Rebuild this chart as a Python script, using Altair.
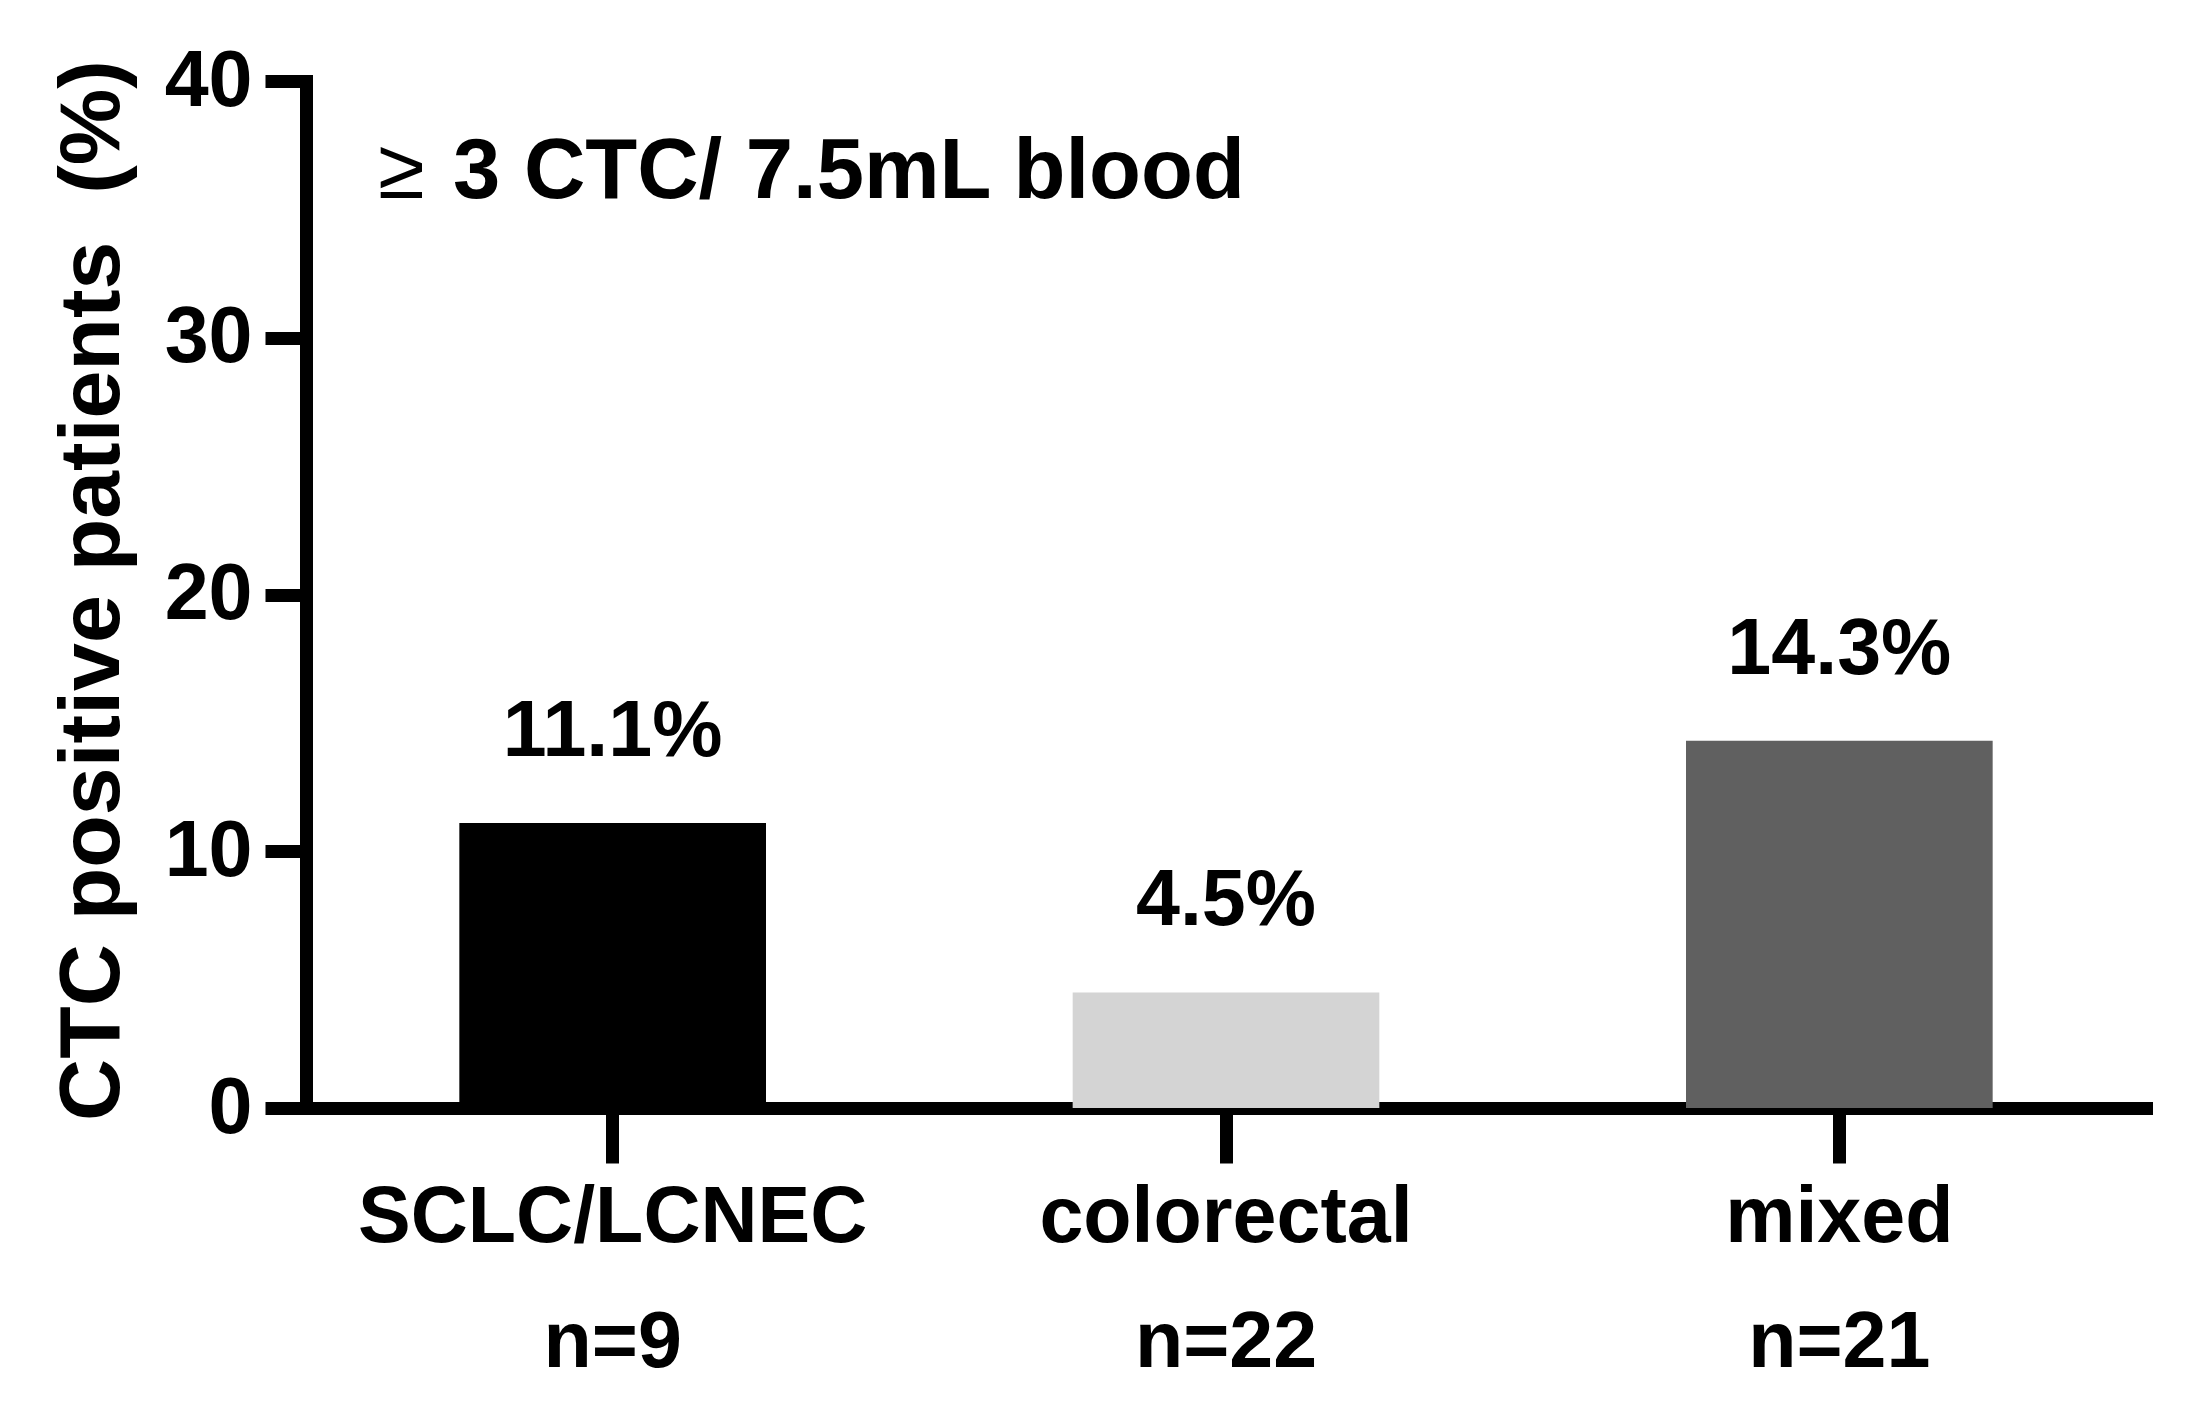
import altair as alt
import pandas as pd

# ---- data ----
categories = ["SCLC/LCNEC", "colorectal", "mixed"]
n_labels = ["n=9", "n=22", "n=21"]
values = [11.1, 4.5, 14.3]
bar_colors = ["#000000", "#d4d4d4", "#606060"]
y_ticks = [0, 10, 20, 30, 40]
y_title = "CTC positive patients\u00a0 (%)"
note_symbol = ["\u2265"]
note_text = ["3 CTC/ 7.5mL blood"]

FONT = "Liberation Sans, Arial, Helvetica, sans-serif"

df = pd.DataFrame({"category": categories, "n": n_labels, "value": values})
df["key"] = df["category"] + "|" + df["n"]
keys = list(df["key"])

x_enc = alt.X(
    "key:N",
    sort=keys,
    scale=alt.Scale(paddingInner=0.5, paddingOuter=0.25),
    axis=alt.Axis(
        title=None,
        labelExpr="split(datum.label, '|')",
        labelAngle=0,
        labelFont=FONT,
        labelFontSize=79,
        labelFontWeight="bold",
        labelColor="black",
        labelPadding=16,
        labelBaseline="top",
        labelLineHeight=125,
        labelOverlap=False,
        labelLimit=2000,
        tickSize=55,
        tickWidth=13,
        tickColor="black",
        domainWidth=13,
        domainColor="black",
        domainCap="square",
    ),
)

y_enc = alt.Y(
    "value:Q",
    scale=alt.Scale(domain=[0, 40], nice=False),
    axis=alt.Axis(
        values=y_ticks,
        grid=False,
        title=y_title,
        titleFont=FONT,
        titleFontSize=86,
        titleFontWeight="bold",
        titleColor="black",
        titleAngle=270,
        titleAlign="center",
        titleBaseline="alphabetic",
        titleX=-188,
        titleY=509,
        titleLimit=3000,
        labelFont=FONT,
        labelFontSize=79,
        labelFontWeight="bold",
        labelColor="black",
        labelPadding=13,
        labelLimit=1000,
        tickSize=41,
        tickWidth=13,
        tickColor="black",
        domainWidth=13,
        domainColor="black",
        domainCap="square",
    ),
)

base = alt.Chart(df)

bars = base.mark_bar().encode(
    x=x_enc,
    y=y_enc,
    color=alt.Color("key:N", scale=alt.Scale(domain=keys, range=bar_colors), legend=None),
)

value_text = base.transform_calculate(
    lab="format(datum.value, '.1f') + '%'"
).mark_text(
    dy=-67, baseline="alphabetic", align="center",
    font=FONT, fontSize=79, fontWeight="bold", color="black",
).encode(x=alt.X("key:N", sort=keys), y="value:Q", text="lab:N")

sym = alt.Chart(pd.DataFrame({"t": note_symbol})).mark_text(
    align="left", baseline="alphabetic", font=FONT, fontSize=85,
    fontWeight="normal", color="black",
).encode(x=alt.value(72), y=alt.value(117), text="t:N")

note = alt.Chart(pd.DataFrame({"t": note_text})).mark_text(
    align="left", baseline="alphabetic", font=FONT, fontSize=85,
    fontWeight="bold", color="black",
).encode(x=alt.value(147), y=alt.value(117), text="t:N")

chart = alt.layer(bars, value_text, sym, note).properties(
    width=1840,
    height=1027,
    autosize=alt.AutoSizeParams(type="none"),
    padding={"left": 298, "top": 73, "right": 37, "bottom": 290},
    background="white",
).configure_view(stroke=None)

chart.save("out.html", embed_options={"renderer": "svg", "actions": False})
